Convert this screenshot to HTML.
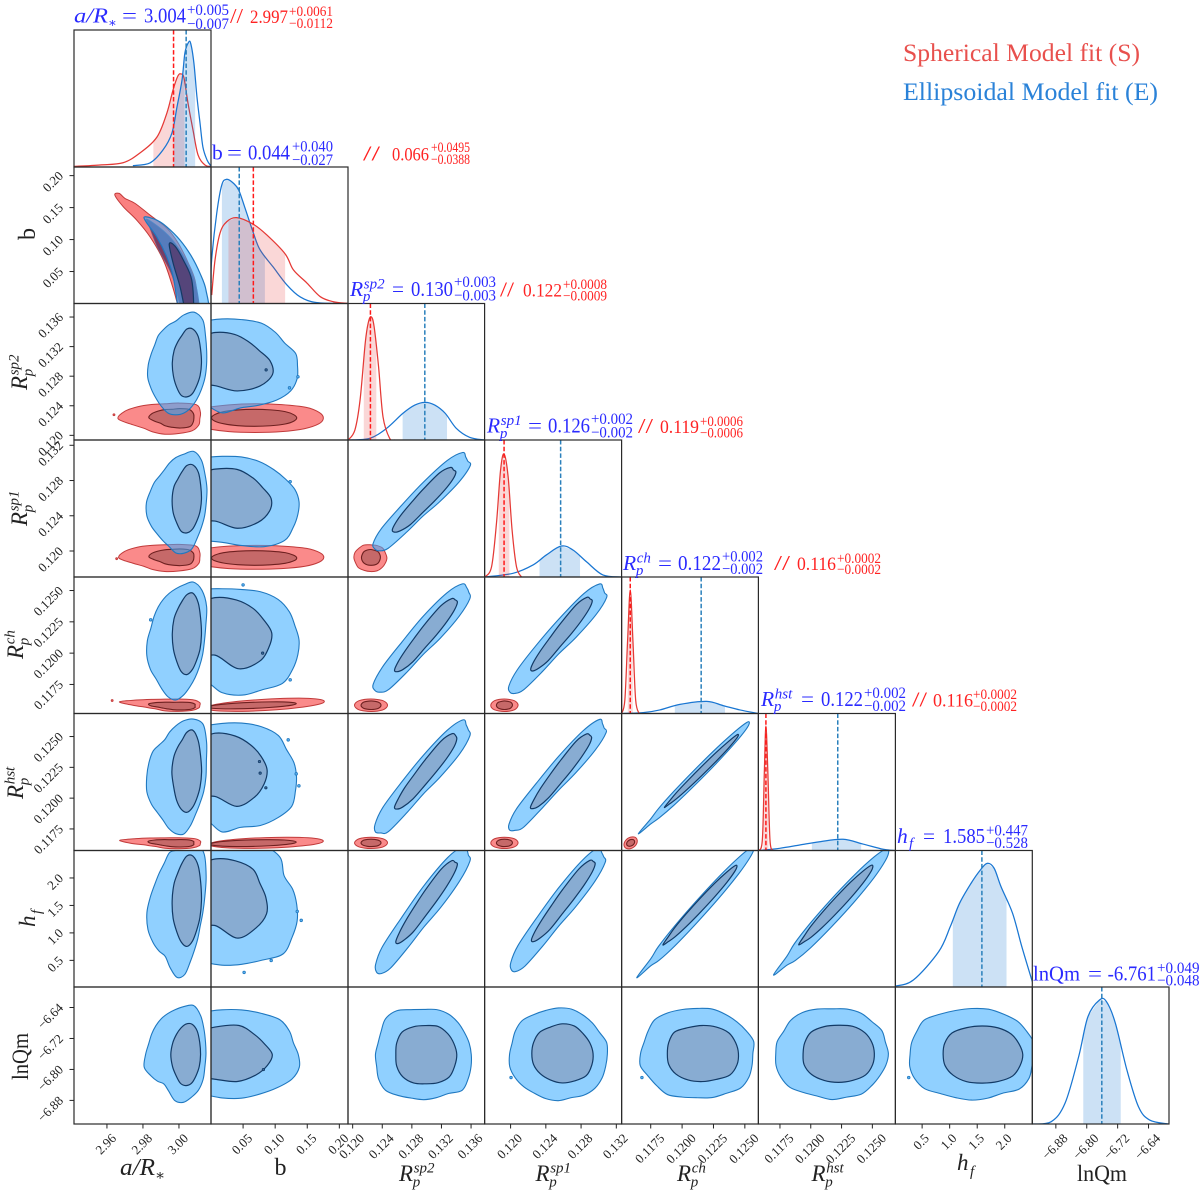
<!DOCTYPE html>
<html lang="en">
<head>
<meta charset="utf-8">
<title>Corner plot: spherical and ellipsoidal model fits</title>
<style>
html,body{margin:0;padding:0;background:#fff}
svg{display:block}
text{font-family:"Liberation Serif","DejaVu Serif",serif}
</style>
</head>
<body>
<svg id="chart" xmlns="http://www.w3.org/2000/svg" width="1200" height="1201" viewBox="0 0 1200 1201">
  <rect width="1200" height="1201" fill="#fff"/>
  <text x="903" y="61" font-size="25" fill="#e8504d" textLength="237" lengthAdjust="spacingAndGlyphs">Spherical Model fit (S)</text>
  <text x="903" y="100" font-size="25" fill="#2a82d8" textLength="255" lengthAdjust="spacingAndGlyphs">Ellipsoidal Model fit (E)</text>
</svg>
<script>
// ---------- parameters and axes ----------
const paramKeys = ['a-over-rstar','b','rp-sp2','rp-sp1','rp-ch','rp-hst','hf','lnqm'];
const domainLo = [2.9417, 0, 0.11937, 0.11705, 0.11518, 0.11575, 0.015, -6.941];
const domainHi = [3.0178, 0.2135, 0.13783, 0.1326, 0.12608, 0.12687, 2.5, -6.587];
const tickA = [2.96, 2.98, 3.00];
const tickB = [0.05, 0.10, 0.15, 0.20];
const tickSp2 = [0.120, 0.124, 0.128, 0.132, 0.136];
const tickSp1 = [0.120, 0.124, 0.128, 0.132];
const tickCh = [0.1175, 0.1200, 0.1225, 0.1250];
const tickHst = [0.1175, 0.1200, 0.1225, 0.1250];
const tickHf = [0.5, 1.0, 1.5, 2.0];
const tickLnQ = [-6.88, -6.80, -6.72, -6.64];
const tickDigits = [2, 2, 3, 3, 4, 4, 1, 2];

// ---------- posterior summaries ----------
const blueMedian = [3.004, 0.044, 0.12975, 0.12568, 0.12152, 0.12219, 1.585, -6.761];
const bluePlus = [0.005, 0.040, 0.0030, 0.0022, 0.0019, 0.0019, 0.447, 0.049];
const blueMinus = [0.007, 0.027, 0.0030, 0.0024, 0.0021, 0.0021, 0.528, 0.048];
const redMedian = [2.997, 0.066, 0.1224, 0.11926, 0.11587, 0.11636];
const redPlus = [0.0061, 0.0495, 0.0008, 0.0006, 0.0002, 0.0002];
const redMinus = [0.0112, 0.0388, 0.0009, 0.0006, 0.0002, 0.0002];

// ---------- 1-D marginal curves (value, relative density) ----------
const blueAX = [2.9744,2.9839,2.9911,2.9961,2.9989,3.0017,3.0033,3.0052,3.0065,3.0083,3.01,3.0117,3.0133,3.0156,3.0178];
const blueAD = [.01,.03,.124,.248,.438,.635,.832,.907,.903,.759,.511,.321,.146,.051,.007];
const redAX = [2.9417,2.9561,2.9689,2.9783,2.9878,2.9933,2.9967,2.9994,3.0011,3.0028,3.005,3.0078,3.0106,3.0144,3.0178];
const redAD = [.004,.015,.031,.102,.219,.394,.562,.664,.679,.65,.467,.27,.088,.015,.004];
const blueBX = [0,.001,.0089,.0167,.0245,.035,.0433,.0531,.0661,.0766,.0969,.1183,.1391,.1652,.2125];
const blueBD = [.15,.32,.66,.867,.91,.881,.83,.698,.516,.392,.267,.136,.048,.006,0];
const redBX = [.0011,.0063,.0141,.0245,.0401,.0661,.087,.1156,.1286,.1495,.1703,.1906,.2125];
const redBD = [.062,.319,.516,.599,.629,.58,.502,.363,.245,.15,.05,.013,.001];
const blueSp2X = [.1194,.1223,.1246,.1268,.1284,.1298,.1311,.1325,.134,.1358,.1378];
const blueSp2D = [0,.012,.086,.196,.256,.276,.256,.196,.086,.02,0];
const redSp2X = [.1194,.1203,.121,.1217,.1221,.1225,.1229,.1235,.1241,.125,.1257];
const redSp2D = [0,.073,.293,.711,.857,.903,.83,.537,.17,.012,0];
const blueSp1X = [.11708,.12028,.12255,.12406,.12576,.12708,.1286,.13047,.13256];
const blueSp1D = [0,.027,.088,.161,.226,.197,.112,.015,0];
const redSp1X = [.11708,.11784,.1184,.11886,.11926,.11972,.12017,.12067,.12123];
const redSp1D = [0,.075,.394,.78,.898,.733,.343,.075,0];
const blueChX = [.11518,.1169,.11823,.11983,.12196,.1233,.12461,.12608];
const blueChD = [0,.006,.026,.067,.089,.057,.026,0];
const redChX = [.11518,.11544,.11566,.11587,.11608,.1163,.11658];
const redChD = [0,.099,.538,.905,.538,.099,0];
const blueHstX = [.11577,.11748,.1191,.12073,.12262,.12424,.12587,.12682];
const blueHstD = [0,.016,.04,.064,.082,.047,.009,0];
const redHstX = [.11577,.11607,.11623,.11636,.11652,.11669,.11693];
const redHstD = [0,.077,.566,.909,.566,.077,0];
const blueHfX = [.015,.341,.801,1.011,1.179,1.389,1.557,1.681,1.807,1.932,2.142,2.31,2.5];
const blueHfD = [.007,.051,.259,.442,.613,.76,.857,.906,.87,.735,.54,.295,.039];
const blueLnQX = [-6.941,-6.892,-6.856,-6.821,-6.797,-6.767,-6.749,-6.726,-6.696,-6.666,-6.637,-6.589];
const blueLnQD = [0,.017,.153,.491,.783,.905,.893,.737,.394,.126,.029,0];

// ---------- 2-D credible contours ----------
// [column, row, level, centreX, centreY, spreadX, spreadY, correlation, radial shape %]
const blueColA = [
 [0,2,0,2.9983,.12952,.0167,.00675,0,[102,106,114,127,122,104,88,84,82,83,81,85,92,97,95,94,96,100,100,100,99,98,98,100]],
 [0,2,1,3.0044,.12979,.0081,.00459,0,[100,102,110,108,100,88,88,95,100,100,100,103,100,98,95,98]],
 [0,3,0,2.9983,.12548,.0167,.0057,0,[101,107,112,120,118,100,90,82,76,76,82,88,98,100,94,88,87,90,100,104,106,100,98,99]],
 [0,3,1,3.0044,.12588,.0081,.00382,0,[100,103,112,110,100,88,86,96,101,102,99,103,100,97,94,97]],
 [0,4,0,2.9983,.12098,.0167,.00463,0,[95,103,118,123,117,100,90,85,83,83,84,86,95,100,98,93,95,100,102,97,92,90,90,92]],
 [0,4,1,3.0044,.12154,.0081,.00319,0,[100,102,110,110,98,88,88,96,100,100,98,102,102,97,94,98]],
 [0,5,0,2.9983,.12173,.0167,.00471,0,[100,105,118,128,115,100,88,80,74,78,88,93,97,100,94,87,86,92,98,102,97,92,92,96]],
 [0,5,1,3.0044,.12213,.0081,.00325,0,[101,102,110,112,99,86,88,97,103,98,100,101,101,97,95,98]],
 [0,6,0,2.9989,1.368,.0167,1.178,0,[86,96,112,128,125,110,97,96,87,85,86,92,100,100,92,84,78,88,100,99,88,82,80,80]],
 [0,6,1,3.0044,1.585,.0081,.815,0,[100,103,110,108,100,90,88,96,101,102,98,100,102,98,94,97]],
 [0,7,0,2.9978,-6.7615,.0172,.1218,0,[100,102,108,117,120,105,95,90,88,87,87,88,95,103,90,80,72,80,98,105,105,107,105,100]],
 [0,7,1,3.0039,-6.7615,.0081,.0803,0,[100,102,108,106,98,92,92,98,104,100,96,100,100,100,97,99]]
];
const blueColB = [
 [1,2,0,.0172,.12939,.1188,.00648,0,[99,100,95,99,103,100,98,96,95,95,95,95,95,95,95,95,85,84,98,91,95,101,104,102]],
 [1,2,1,.00625,.13006,.0859,.00418,0,[100,87,87,93,92,80,80,80,80,80,80,80,80,105,115,113]],
 [1,3,0,.0172,.1256,.1188,.00536,0,[101,99,96,96,98,98,96,96,96,96,96,96,96,96,96,96,96,86,86,96,110,116,108,103]],
 [1,3,1,.00625,.12594,.0875,.00353,0,[100,92,95,102,95,85,82,82,82,82,82,82,72,103,108,105]],
 [1,4,0,.0172,.12106,.1188,.00439,0,[101,99,102,104,101,95,93,95,95,95,95,95,95,95,95,95,95,80,96,104,105,112,107,103]],
 [1,4,1,.00625,.12162,.0875,.00287,0,[101,94,96,99,98,85,82,82,82,82,82,82,62,108,112,104]],
 [1,5,0,.0172,.12173,.1172,.00447,0,[99,99,99,106,105,101,97,95,95,95,95,95,95,95,95,95,95,82,100,95,102,105,107,101]],
 [1,5,1,.00625,.1223,.0828,.003,0,[98,94,95,99,99,85,82,82,82,82,82,82,72,107,105,100]],
 [1,6,0,.0172,1.513,.1188,1.123,0,[98,96,94,108,110,105,100,97,97,97,97,97,97,97,97,97,97,96,98,100,104,113,106,102]],
 [1,6,1,.00625,1.64,.0844,.743,0,[94,90,99,98,95,85,82,82,82,82,82,82,68,107,106,103]],
 [1,7,0,.0172,-6.7615,.1188,.1192,0,[100,97,102,107,103,100,97,95,95,95,95,95,95,95,95,95,95,90,94,98,99,102,106,105]],
 [1,7,1,.00625,-6.7615,.0875,.0725,0,[102,96,100,112,98,85,85,85,85,85,85,85,88,104,103,101]]
];
const blueColSp2 = [
 [2,3,0,.12948,.12537,.00661,.00558,.94,[92,95,115,130,125,118,120,110,98,96,100,85,75,90,105,105]],
 [2,3,1,.12955,.1256,.00432,.00353,.93,[102,102,120,133,110,95,92,93,97,98,102,106,90,90,95,100]],
 [2,4,0,.12955,.12106,.00654,.00431,.937,[94,97,114,128,126,116,118,112,100,97,101,87,77,92,104,104]],
 [2,4,1,.12982,.1213,.00425,.00287,.944,[102,103,118,130,112,96,92,94,98,97,101,104,90,92,96,100]],
 [2,5,0,.12955,.12153,.00654,.00459,.94,[93,96,116,128,124,118,119,108,99,95,102,86,76,91,106,104]],
 [2,5,1,.12982,.12201,.00425,.00296,.94,[100,104,120,132,111,95,93,92,98,98,102,105,92,90,95,99]],
 [2,6,0,.12962,1.386,.00654,1.178,.95,[92,96,112,128,128,120,122,108,98,96,98,84,76,92,104,103]],
 [2,6,1,.12989,1.531,.00418,.743,.95,[102,102,118,130,113,97,92,92,97,98,100,105,92,92,96,100]],
 [2,7,0,.12962,-6.7615,.00654,.1166,0,[98,97,97,100,103,103,100,103,112,112,102,98,100,101,108,112,105,100,100,99,100,112,106,101]],
 [2,7,1,.12989,-6.7615,.00418,.0764,0,[100,98,100,103,98,102,108,102,97,102,106,104,99,103,107,101]]
];
const blueColSp1 = [
 [3,4,0,.12546,.12098,.00566,.00439,.95,[92,96,116,132,126,120,118,108,98,96,100,86,76,92,106,104]],
 [3,4,1,.12569,.12138,.00351,.00287,.95,[102,103,120,134,112,96,93,94,97,98,101,106,90,92,96,100]],
 [3,5,0,.12546,.12169,.00555,.0045,.955,[93,97,118,132,128,120,122,110,100,96,102,85,78,92,106,105]],
 [3,5,1,.12569,.12205,.00351,.003,.95,[100,102,118,132,110,96,92,92,98,97,102,104,92,92,95,99]],
 [3,6,0,.12546,1.386,.00555,1.141,.953,[92,95,115,128,126,118,118,106,97,96,98,85,76,90,104,103]],
 [3,6,1,.12591,1.549,.00362,.725,.955,[102,104,120,132,112,96,92,94,98,98,100,105,90,90,95,100]],
 [3,7,0,.12543,-6.7615,.00555,.118,0,[100,102,97,98,100,103,102,100,101,105,102,98,100,103,102,100,98,100,101,98,103,105,103,100]],
 [3,7,1,.12585,-6.7589,.00351,.0738,0,[100,97,97,104,104,100,104,100,98,100,100,100,103,104,110,104]]
];
const blueColCh = [
 [4,5,0,.12098,.12165,.00438,.0045,.99,[100,103,104,104,100,97,92,86,102,86,90,97,100,104,104,102]],
 [4,5,1,.12154,.12218,.00295,.00296,.992,[100,103,103,104,100,96,95,92,100,92,95,98,100,103,103,101]],
 [4,6,0,.1211,1.368,.00462,1.178,.985,[100,103,104,104,100,97,92,84,102,84,90,97,100,104,104,101]],
 [4,6,1,.12142,1.495,.00295,.725,.984,[100,103,103,104,100,97,95,92,100,92,95,98,100,103,103,101]],
 [4,7,0,.12121,-6.7589,.00452,.1166,0,[98,103,100,99,100,102,100,101,104,106,100,97,100,104,100,101,105,100,98,101,102,108,105,100]],
 [4,7,1,.1216,-6.7589,.00289,.0725,0,[100,100,104,102,100,100,108,100,96,100,103,102,100,100,108,104]]
];
const blueColHst = [
 [5,6,0,.1217,1.368,.00463,1.141,.975,[100,103,105,104,100,97,92,85,102,85,90,97,100,104,105,102]],
 [5,6,1,.12203,1.495,.00301,.725,.978,[100,103,103,104,100,97,95,92,100,92,95,98,100,103,103,101]],
 [5,7,0,.12173,-6.7589,.00457,.1166,0,[100,98,102,100,103,102,99,102,105,104,99,101,100,103,105,106,100,98,102,100,104,100,98,99]],
 [5,7,1,.12224,-6.7589,.00295,.0738,0,[99,100,103,103,99,102,106,100,97,102,104,102,101,102,106,102]]
];
const blueColHf = [
 [6,7,0,1.401,-6.7615,1.131,.1166,0,[100,103,102,104,103,104,102,101,103,108,102,100,99,103,106,107,100,99,101,100,99,108,106,100]],
 [6,7,1,1.597,-6.7615,.73,.0738,0,[100,98,101,101,100,102,107,102,98,101,103,103,100,102,106,101]]
];
const redColA = [
 [0,2,0,2.9922,.12224,.0194,.00209,0,[100,110,128,110,97,100,110,125,134,100,86,92,100,103,110,105]],
 [0,2,1,2.9961,.12237,.0122,.00142,0,[100,106,112,95,81,85,90,100,105,85,73,82,90,105,117,105]],
 [0,3,0,2.9922,.11921,.0194,.00154,0,[100,108,125,108,97,100,112,125,132,100,86,92,100,104,111,105]],
 [0,3,1,2.9961,.11933,.0122,.00103,0,[100,106,110,95,83,85,90,100,105,85,75,82,90,104,115,105]],
 [0,4,0,2.9922,.11583,.0194,.00052,0,[100,108,117,105,95,100,115,141,90,64,60,62,85,100,110,105]],
 [0,4,1,2.9967,.11579,.0122,.000335,0,[100,108,112,95,85,95,110,120,100,75,70,75,90,105,115,108]],
 [0,5,0,2.9922,.11633,.0197,.00047,0,[100,108,117,105,95,100,115,138,95,65,60,62,85,100,110,105]],
 [0,5,1,2.9961,.11635,.0121,.000325,0,[100,108,112,95,85,95,110,118,100,75,70,75,90,105,115,108]]
];
const redColB = [
 [1,2,0,.0688,.12231,.1063,.00196,0,[100,102,106,102,100,100,102,100,100,100,100,100,98,100,102,101]],
 [1,2,1,.0672,.12237,.0664,.00115,0,[100,100,103,101,100,100,102,100,100,100,100,100,100,101,103,101]],
 [1,3,0,.0688,.11927,.107,.00137,0,[100,102,106,102,100,101,102,100,100,100,100,100,98,100,103,101]],
 [1,3,1,.0672,.11921,.0664,.00083,0,[100,100,103,101,100,100,102,100,100,100,100,100,100,101,103,101]],
 [1,4,0,.0844,.11587,.0922,.00052,.5,[100,102,104,102,100,100,100,100,100,100,100,100,100,100,100,100]],
 [1,4,1,.0641,.11583,.0688,.00028,.5,[100,100,102,100,100,100,100,100,100,100,100,100,100,100,100,100]],
 [1,5,0,.0859,.11637,.0891,.00045,.3,[100,102,104,102,100,100,100,100,100,100,100,100,100,100,100,100]],
 [1,5,1,.0656,.11635,.0672,.00028,.3,[100,100,102,100,100,100,100,100,100,100,100,100,100,100,100,100]]
];
const redColSp2 = [
 [2,3,0,.1224,.11921,.00223,.00154,0,[100,98,104,100,97,103,100,102,100,97,102,99,100,103,100,98]],
 [2,3,1,.12247,.11927,.00128,.00091,0,[100,101,103,97,99,100,103,99,100,101,102,100,98,101,104,100]],
 [2,4,0,.12248,.11584,.00223,.0005,0,[100,101,103,100,100,102,103,101,100,101,103,100,100,102,103,101]],
 [2,4,1,.12248,.11584,.00135,.00034,0,[100,102,103,100,100,100,104,100,100,101,103,100,100,102,103,101]],
 [2,5,0,.12248,.11637,.00223,.00046,0,[100,101,102,100,100,100,102,100,100,101,102,100,100,101,102,100]],
 [2,5,1,.12248,.11637,.00135,.0003,0,[100,102,103,100,100,100,103,100,100,101,102,100,100,102,103,101]]
];
const redColSp1 = [
 [3,4,0,.1193,.11584,.00155,.0005,0,[100,101,103,100,100,101,103,100,100,102,103,100,100,101,103,100]],
 [3,4,1,.1193,.11584,.00091,.00034,0,[100,103,106,100,100,97,102,100,100,101,102,100,100,101,103,100]],
 [3,5,0,.1193,.11637,.00155,.00046,0,[100,101,102,100,100,101,102,100,100,101,102,100,100,101,102,100]],
 [3,5,1,.1193,.11637,.00091,.0003,0,[100,102,103,100,100,100,102,100,100,101,102,100,100,102,103,100]]
];
const redColCh = [
 [4,5,0,.1159,.11637,.00053,.00049,.3,[100,100,102,100,100,100,100,100,100,100,100,100,100,100,100,100]],
 [4,5,1,.1159,.11637,.00032,.00028,.3,[100,100,102,100,100,100,100,100,100,100,100,100,100,100,100,100]]
];

// Crescent-shaped a/R* vs b contours: value pairs
const redBananaOuterX = [2.9644,2.9668,2.97,2.9756,2.9839,2.9932,2.9996,3.0052,3.0089,3.0107,3.0111,3.0,2.9991,2.9959,2.9913,2.9839,2.9765,2.9691];
const redBananaOuterY = [.1695,.1722,.1644,.1566,.1383,.118,.0945,.0633,.0367,0,-.013,-.013,0,.0316,.068,.1044,.1305,.1513];
const redBananaInnerX = [2.9822,2.9922,2.9994,3.0061,3.01,3.0106,3.0022,2.9961,2.9883,2.9839];
const redBananaInnerY = [.132,.1117,.0883,.0555,.0211,-.013,-.013,.0445,.0867,.118];
const blueBananaOuterX = [2.9811,2.9876,2.9932,3.0006,3.0071,3.0117,3.015,3.0153,2.9994,2.9991,2.9968,2.9932,2.9876,2.9817];
const blueBananaOuterY = [.1356,.1305,.12,.0992,.0731,.0472,.0211,-.013,-.013,0,.0419,.0731,.1044,.1278];
const blueBananaInnerX = [2.9946,2.9978,3.0024,3.0071,3.0079,3.0039,3.0006,2.9968];
const blueBananaInnerY = [.093,.0898,.068,.0367,-.013,-.013,.0263,.0628];

// Isolated small contour islands: [column, row, x value, y value]
const blueIslands = [
 [0,4,2.9843,.12266],[1,4,.05,.12545],[1,4,.1234,.11787],[1,2,.1223,.12642],[1,2,.1355,.12792],[1,3,.1234,.12787],
 [1,5,.1203,.12473],[1,5,.1328,.12197],[1,5,.137,.121],[1,6,.1344,1.391],[1,6,.1406,1.228],[1,6,.0938,.498],[1,6,.0516,.281],
 [3,7,.12005,-6.821],[4,7,.1168,-6.821],[6,7,.257,-6.821]
];
const blueInnerIslands = [[1,2,.0859,.12885],[1,4,.0805,.12],[1,5,.0755,.12297],[1,5,.0766,.12203],[1,5,.0855,.12084],[1,7,.0817,-6.8003]];
const redIslands = [[0,2,2.9639,.12278],[0,3,2.9654,.11913],[0,4,2.9629,.11622]];

// ---------- layout ----------
const xEdge = [74,211,348,484.6,621.6,758.4,895.4,1032.3,1169];
const yEdge = [30,167,303.5,440,577,713.5,850.5,987,1124];
const SVGNS = 'http://www.w3.org/2000/svg';
const svg = document.getElementById('chart');
const defs = document.createElementNS(SVGNS,'defs');
svg.appendChild(defs);

function mk(tag, attrs, name, parent){
  const el = document.createElementNS(SVGNS, tag);
  for (const k in attrs) el.setAttribute(k, attrs[k]);
  
  
  (parent || svg).appendChild(el);
  return el;
}
function txt(str, attrs, name, parent){
  const el = mk('text', attrs, name, parent);
  el.textContent = str;
  return el;
}
// axis functions
function sx(param, col, v){
  return xEdge[col] + (v - domainLo[param]) / (domainHi[param] - domainLo[param]) * (xEdge[col+1] - xEdge[col]);
}
function sy(param, row, v){
  return yEdge[row+1] - (v - domainLo[param]) / (domainHi[param] - domainLo[param]) * (yEdge[row+1] - yEdge[row]);
}
function sd(row, d){
  return yEdge[row+1] - d * (yEdge[row+1] - yEdge[row]);
}
function smooth(pts){
  const n = pts.length;
  let d = 'M' + pts[0][0].toFixed(2) + ' ' + pts[0][1].toFixed(2);
  for (let i = 0; i < n; i++){
    const p0 = pts[(i-1+n)%n], p1 = pts[i], p2 = pts[(i+1)%n], p3 = pts[(i+2)%n];
    const c1x = p1[0] + (p2[0]-p0[0])/6, c1y = p1[1] + (p2[1]-p0[1])/6;
    const c2x = p2[0] - (p3[0]-p1[0])/6, c2y = p2[1] - (p3[1]-p1[1])/6;
    d += 'C' + c1x.toFixed(2) + ' ' + c1y.toFixed(2) + ' ' + c2x.toFixed(2) + ' ' + c2y.toFixed(2) + ' ' + p2[0].toFixed(2) + ' ' + p2[1].toFixed(2);
  }
  return d + 'Z';
}

const fills = {
  blue: [{fill:'rgb(60,172,255)',op:.57,stroke:'#1f78c0',w:1.1},{fill:'rgb(132,148,180)',op:.6,stroke:'#123a66',w:1.2}],
  red:  [{fill:'rgb(246,60,60)',op:.6,stroke:'#c13a3a',w:1},{fill:'rgb(146,72,72)',op:.5,stroke:'#6e2020',w:1.1}]
};

// panel clip regions and groups
const panelGroups = {};
function panelGroup(col,row){
  const key = col + '-' + row;
  if (panelGroups[key]) return panelGroups[key];
  const cp = mk('clipPath', {id:'clip-'+key}, 'panel-clip-'+key, defs);
  mk('rect', {x:xEdge[col], y:yEdge[row], width:xEdge[col+1]-xEdge[col], height:yEdge[row+1]-yEdge[row]}, 'panel-clip-rect-'+key, cp);
  const g = mk('g', {'clip-path':'url(#clip-'+key+')'}, 'panel-'+paramKeys[col]+'-vs-'+paramKeys[row]);
  panelGroups[key] = g;
  return g;
}

function drawContour(c, model){
  const col=c[0], row=c[1], lvl=c[2], cx=c[3], cy=c[4], hx=c[5], hy=c[6], rho=c[7], radii=c[8];
  const s = Math.sqrt(1 - rho*rho);
  const pts = radii.map(function(r,i){
    const t = 2*Math.PI*i/radii.length, q = r/100;
    const u = q*Math.cos(t), v = q*(rho*Math.cos(t) + s*Math.sin(t));
    return [sx(col,col,cx+hx*u), sy(row,row,cy+hy*v)];
  });
  const st = fills[model][lvl];
  mk('path', {d:smooth(pts), fill:st.fill, 'fill-opacity':st.op, stroke:st.stroke, 'stroke-width':st.w, 'stroke-linejoin':'round'},
     model+'-contour-'+(lvl?'inner':'outer')+'-'+paramKeys[col]+'-'+paramKeys[row], panelGroup(col,row));
}
function drawBanana(xs, ys, fill, op, stroke, w, name){
  const pts = xs.map(function(x,i){ return [sx(0,0,x), sy(1,1,ys[i])]; });
  mk('path', {d:smooth(pts), fill:fill, 'fill-opacity':op, stroke:stroke, 'stroke-width':w, 'stroke-linejoin':'round'}, name, panelGroup(0,1));
}
function drawIsland(i, fill, stroke, r, name){
  mk('circle', {cx:sx(i[0],i[0],i[2]), cy:sy(i[1],i[1],i[3]), r:r, fill:fill, stroke:stroke, 'stroke-width':.8}, name, panelGroup(i[0],i[1]));
}

// red first, blue on top
drawBanana(redBananaOuterX, redBananaOuterY, 'rgb(250,128,128)', 1, '#c13a3a', 1, 'red-contour-outer-a-b');
drawBanana(redBananaInnerX, redBananaInnerY, 'rgb(120,60,100)', 1, '#6e5a80', .8, 'red-contour-inner-a-b');
[redColA,redColB,redColSp2,redColSp1,redColCh].forEach(function(list){
  list.forEach(function(c){ drawContour(c,'red'); });
});
redIslands.forEach(function(i){ drawIsland(i,'#e85a5a','#c13a3a',1,'red-contour-island'); });
drawBanana(blueBananaOuterX, blueBananaOuterY, 'rgb(60,172,255)', .57, '#1f78c0', 1.2, 'blue-contour-outer-a-b');
drawBanana(blueBananaInnerX, blueBananaInnerY, 'rgb(85,55,105)', .8, '#123a66', 1.2, 'blue-contour-inner-a-b');
[blueColA,blueColB,blueColSp2,blueColSp1,blueColCh,blueColHst,blueColHf].forEach(function(list){
  list.forEach(function(c){ drawContour(c,'blue'); });
});
blueIslands.forEach(function(i){ drawIsland(i,'#5fb4f0','#1f78c0',1.3,'blue-contour-island'); });
blueInnerIslands.forEach(function(i){ drawIsland(i,'#3f6c9c','#123a66',1.2,'blue-inner-contour-island'); });

// ---------- diagonal marginals ----------
function densityAt(xs, ds, v){
  if (v <= xs[0]) return ds[0];
  for (let i = 1; i < xs.length; i++){
    if (v <= xs[i]) return ds[i-1] + (ds[i]-ds[i-1]) * (v-xs[i-1]) / (xs[i]-xs[i-1]);
  }
  return ds[ds.length-1];
}
function drawMarginal(p, xs, ds, med, plus, minus, model){
  const g = panelGroup(p,p);
  const line = model === 'blue' ? '#1976d2' : '#e53935';
  const band = model === 'blue' ? 'rgba(25,118,210,.22)' : 'rgba(229,57,53,.2)';
  const lo = med - minus, hi = med + plus;
  const bx = [lo].concat(xs.filter(function(x){ return x > lo && x < hi; }), [hi]);
  let bd = 'M' + sx(p,p,lo).toFixed(2) + ' ' + sd(p,0).toFixed(2);
  bx.forEach(function(x){ bd += 'L' + sx(p,p,x).toFixed(2) + ' ' + sd(p,densityAt(xs,ds,x)).toFixed(2); });
  bd += 'L' + sx(p,p,hi).toFixed(2) + ' ' + sd(p,0).toFixed(2) + 'Z';
  mk('path', {d:bd, fill:band}, model+'-credible-band-'+paramKeys[p], g);
  const pts = xs.map(function(x,i){ return [sx(p,p,x), sd(p,ds[i])]; });
  let d = 'M' + pts[0][0].toFixed(2) + ' ' + pts[0][1].toFixed(2);
  for (let i = 0; i < pts.length-1; i++){
    const a = pts[Math.max(i-1,0)], b = pts[i], c = pts[i+1], e = pts[Math.min(i+2,pts.length-1)];
    d += 'C' + (b[0]+(c[0]-a[0])/6).toFixed(2) + ' ' + (b[1]+(c[1]-a[1])/6).toFixed(2) + ' ' + (c[0]-(e[0]-b[0])/6).toFixed(2) + ' ' + (c[1]-(e[1]-b[1])/6).toFixed(2) + ' ' + c[0].toFixed(2) + ' ' + c[1].toFixed(2);
  }
  mk('path', {d:d, fill:'none', stroke:line, 'stroke-width':1.25}, model+'-marginal-'+paramKeys[p], g);
}
function drawMedian(p, med, model){
  const mx = sx(p,p,med);
  mk('line', {x1:mx, x2:mx, y1:yEdge[p], y2:yEdge[p+1], stroke:model === 'blue' ? '#2a80bc' : '#ff1a1a', 'stroke-width':1.5, 'stroke-dasharray':'4.5 2.2'}, model+'-median-line-'+paramKeys[p], panelGroup(p,p));
}
drawMarginal(0, redAX, redAD, redMedian[0], redPlus[0], redMinus[0], 'red');
drawMarginal(0, blueAX, blueAD, blueMedian[0], bluePlus[0], blueMinus[0], 'blue');
drawMarginal(1, blueBX, blueBD, blueMedian[1], bluePlus[1], blueMinus[1], 'blue');
drawMarginal(1, redBX, redBD, redMedian[1], redPlus[1], redMinus[1], 'red');
drawMarginal(2, blueSp2X, blueSp2D, blueMedian[2], bluePlus[2], blueMinus[2], 'blue');
drawMarginal(2, redSp2X, redSp2D, redMedian[2], redPlus[2], redMinus[2], 'red');
drawMarginal(3, blueSp1X, blueSp1D, blueMedian[3], bluePlus[3], blueMinus[3], 'blue');
drawMarginal(3, redSp1X, redSp1D, redMedian[3], redPlus[3], redMinus[3], 'red');
drawMarginal(4, blueChX, blueChD, blueMedian[4], bluePlus[4], blueMinus[4], 'blue');
drawMarginal(4, redChX, redChD, redMedian[4], redPlus[4], redMinus[4], 'red');
drawMarginal(5, blueHstX, blueHstD, blueMedian[5], bluePlus[5], blueMinus[5], 'blue');
drawMarginal(5, redHstX, redHstD, redMedian[5], redPlus[5], redMinus[5], 'red');
drawMarginal(6, blueHfX, blueHfD, blueMedian[6], bluePlus[6], blueMinus[6], 'blue');
drawMarginal(7, blueLnQX, blueLnQD, blueMedian[7], bluePlus[7], blueMinus[7], 'blue');
blueMedian.forEach(function(m,p){ drawMedian(p, m, 'blue'); });
redMedian.forEach(function(m,p){ drawMedian(p, m, 'red'); });

// ---------- panel frames ----------
for (let row = 0; row < 8; row++){
  for (let col = 0; col <= row; col++){
    mk('rect', {x:xEdge[col], y:yEdge[row], width:xEdge[col+1]-xEdge[col], height:yEdge[row+1]-yEdge[row], fill:'none', stroke:'#2a2a2a', 'stroke-width':1.2},
       'panel-frame-'+paramKeys[col]+'-'+paramKeys[row]);
  }
}

// ---------- ticks ----------
const allTicks = [tickA,tickB,tickSp2,tickSp1,tickCh,tickHst,tickHf,tickLnQ];
function tickString(v, digits){
  return (v < 0 ? '\u2212' : '') + Math.abs(v).toFixed(digits);
}
allTicks.forEach(function(ticks, p){
  ticks.forEach(function(v){
    const label = tickString(v, tickDigits[p]);
    // bottom axis
    const x = sx(p,p,v);
    mk('line', {x1:x, x2:x, y1:1124, y2:1128.5, stroke:'#222', 'stroke-width':1}, 'x-tick-'+paramKeys[p]);
    const t = txt(label, {'font-size':13, fill:'#222', 'text-anchor':'middle'}, 'x-tick-label-'+paramKeys[p]);
    const h = t.getComputedTextLength()*0.707 + 2;
    const lx = x - 1 + 3, ly = 1135 + h/2 + 3;
    t.setAttribute('x', lx);
    t.setAttribute('y', ly);
    t.setAttribute('transform', 'rotate(-45 ' + lx.toFixed(2) + ' ' + ly.toFixed(2) + ')');
    // left axis
    if (p > 0){
      const y = sy(p,p,v);
      mk('line', {x1:69.5, x2:74, y1:y, y2:y, stroke:'#222', 'stroke-width':1}, 'y-tick-'+paramKeys[p]);
      const u = txt(label, {'font-size':13, fill:'#222', 'text-anchor':'middle'}, 'y-tick-label-'+paramKeys[p]);
      const k = u.getComputedTextLength()*0.707 + 2;
      const ux = 62 - k/2 + 3, uy = y - 3 + k/2 + 3;
      u.setAttribute('x', ux);
      u.setAttribute('y', uy);
      u.setAttribute('transform', 'rotate(-45 ' + ux.toFixed(2) + ' ' + uy.toFixed(2) + ')');
    }
  });
});

// ---------- math label helpers ----------
function rLabel(x, y, sup, size, color, supSize, parent, nameBase){
  const supX = x + size*0.64, pX = x + size*0.6;
  txt('R', {x:x, y:y, 'font-size':size, 'font-style':'italic', fill:color}, nameBase+'-symbol', parent);
  txt(sup, {x:supX, y:y - size*0.36, 'font-size':supSize, 'font-style':'italic', fill:color}, nameBase+'-superscript', parent);
  txt('p', {x:pX, y:y + size*0.24, 'font-size':supSize, 'font-style':'italic', fill:color}, nameBase+'-subscript', parent);
}

// axis titles along the bottom
const gx = mk('g', {}, 'x-axis-titles');
txt('a/R', {x:120, y:1175, 'font-size':24, 'font-style':'italic', fill:'#222', textLength:35, lengthAdjust:'spacingAndGlyphs'}, 'x-axis-title-a-over-rstar', gx);
txt('\u2217', {x:155, y:1180, 'font-size':15, fill:'#222'}, 'x-axis-title-star', gx);
txt('b', {x:274.5, y:1175, 'font-size':24, fill:'#222'}, 'x-axis-title-b', gx);
rLabel(399, 1181, 'sp2', 23, '#222', 15, gx, 'x-axis-title-rp-sp2');
rLabel(535.5, 1181, 'sp1', 23, '#222', 15, gx, 'x-axis-title-rp-sp1');
rLabel(677, 1181, 'ch', 23, '#222', 15, gx, 'x-axis-title-rp-ch');
rLabel(811.5, 1181, 'hst', 23, '#222', 15, gx, 'x-axis-title-rp-hst');
txt('h', {x:957, y:1170, 'font-size':23, 'font-style':'italic', fill:'#222'}, 'x-axis-title-hf', gx);
txt('f', {x:970, y:1176, 'font-size':15, 'font-style':'italic', fill:'#222'}, 'x-axis-title-hf-subscript', gx);
txt('lnQm', {x:1077, y:1181, 'font-size':23, fill:'#222', textLength:50, lengthAdjust:'spacingAndGlyphs'}, 'x-axis-title-lnqm', gx);

// axis titles along the left
function rotated(x, y, name){
  return mk('g', {transform:'rotate(-90 '+x+' '+y+')'}, name);
}
const yb = rotated(35,240,'y-axis-title-b');
txt('b', {x:35, y:240, 'font-size':24, fill:'#222'}, 'y-axis-title-b-text', yb);
rLabel(27, 390, 'sp2', 23, '#222', 15, rotated(27,390,'y-axis-title-rp-sp2-group'), 'y-axis-title-rp-sp2');
rLabel(27, 526, 'sp1', 23, '#222', 15, rotated(27,526,'y-axis-title-rp-sp1-group'), 'y-axis-title-rp-sp1');
rLabel(23, 659, 'ch', 23, '#222', 15, rotated(23,659,'y-axis-title-rp-ch-group'), 'y-axis-title-rp-ch');
rLabel(23, 799, 'hst', 23, '#222', 15, rotated(23,799,'y-axis-title-rp-hst-group'), 'y-axis-title-rp-hst');
const yh = rotated(35,927,'y-axis-title-hf');
txt('h', {x:35, y:927, 'font-size':23, 'font-style':'italic', fill:'#222'}, 'y-axis-title-hf-text', yh);
txt('f', {x:48, y:933, 'font-size':15, 'font-style':'italic', fill:'#222'}, 'y-axis-title-hf-subscript', yh);
const yq = rotated(28,1080,'y-axis-title-lnqm');
txt('lnQm', {x:28, y:1080, 'font-size':23, fill:'#222', textLength:47, lengthAdjust:'spacingAndGlyphs'}, 'y-axis-title-lnqm-text', yq);

// ---------- panel titles ----------
const BLUE_T = '#2a2aff', RED_T = '#ff2222';
function fit(str, x0, x1, y, size, color, name){
  return txt(str, {x:x0, y:y, 'font-size':size, fill:color, textLength:(x1-x0).toFixed(1), lengthAdjust:'spacingAndGlyphs'}, name);
}
function blueTitle(p, eq, num, sup, base, supB, subB){
  const digits = 3;
  fit('=', eq[0], eq[1], base, 21.5, BLUE_T, 'title-equals-'+paramKeys[p]);
  fit(blueMedian[p].toFixed(3), num[0], num[1], base, 21.5, BLUE_T, 'title-value-'+paramKeys[p]);
  fit('+' + bluePlus[p].toFixed(digits), sup[0], sup[1], supB, 16, BLUE_T, 'title-upper-error-'+paramKeys[p]);
  fit('\u2212' + blueMinus[p].toFixed(digits), sup[0], sup[1], subB, 16, BLUE_T, 'title-lower-error-'+paramKeys[p]);
}
function redTitle(p, sl, num, sup, base, supB, subB){
  fit('//', sl[0], sl[1], base, 21.5, RED_T, 'title-separator-'+paramKeys[p]);
  fit(redMedian[p].toFixed(3), num[0], num[1], base, 19, RED_T, 'title-red-value-'+paramKeys[p]);
  fit('+' + redPlus[p].toFixed(4), sup[0], sup[1], supB, 14.5, RED_T, 'title-red-upper-error-'+paramKeys[p]);
  fit('\u2212' + redMinus[p].toFixed(4), sup[0], sup[1], subB, 14.5, RED_T, 'title-red-lower-error-'+paramKeys[p]);
}
// a / R*
txt('a/R', {x:74, y:22.7, 'font-size':21.5, 'font-style':'italic', fill:BLUE_T, textLength:34, lengthAdjust:'spacingAndGlyphs'}, 'title-name-a-over-rstar');
txt('\u2217', {x:108, y:27, 'font-size':13, fill:BLUE_T}, 'title-name-star');
blueTitle(0,[122,137],[144,186],[187,229],22.7,15,29);
redTitle(0,[230,243],[250,288],[289,333],23,16,28);
// b
txt('b', {x:212, y:159.3, 'font-size':21.5, fill:BLUE_T}, 'title-name-b');
blueTitle(1,[227,242],[248,290],[292,333],159.3,151.7,165);
redTitle(1,[363,380],[392,429],[431,470],160.5,152,164);
// Rp sp2
rLabel(350,296,'sp2',21.5,BLUE_T,15,svg,'title-name-rp-sp2');
blueTitle(2,[392,404],[411,453],[454,496],296,287,300.7);
redTitle(2,[500,514],[523,562],[563,607],296.7,289,300.7);
// Rp sp1
rLabel(487,432.7,'sp1',21.5,BLUE_T,15,svg,'title-name-rp-sp1');
blueTitle(3,[528,542],[548,590],[591,633],432.7,424,437.7);
redTitle(3,[638,653],[660,699],[700,743],433,426,437.7);
// Rp ch
rLabel(623,570,'ch',21.5,BLUE_T,15,svg,'title-name-rp-ch');
blueTitle(4,[658,672],[678,721],[722,763],570,561.7,574);
redTitle(4,[774,790],[797,836],[837,881],570,563,574);
// Rp hst
rLabel(761,706,'hst',21.5,BLUE_T,15,svg,'title-name-rp-hst');
blueTitle(5,[801,814],[821,863],[864,906],706,698,711);
redTitle(5,[912,927],[933,973],[973,1017],706.7,699,711);
// hf
txt('h', {x:897, y:843, 'font-size':21.5, 'font-style':'italic', fill:BLUE_T}, 'title-name-hf');
txt('f', {x:909, y:848, 'font-size':15, 'font-style':'italic', fill:BLUE_T}, 'title-name-hf-subscript');
blueTitle(6,[923,935],[943,985],[986,1028],843,835.7,848);
// lnQm
fit('lnQm', 1033, 1080, 980.7, 21.5, BLUE_T, 'title-name-lnqm');
blueTitle(7,[1088,1102],[1107.6,1156],[1157,1199.5],980.7,973,985.7);
</script>
</body>
</html>
